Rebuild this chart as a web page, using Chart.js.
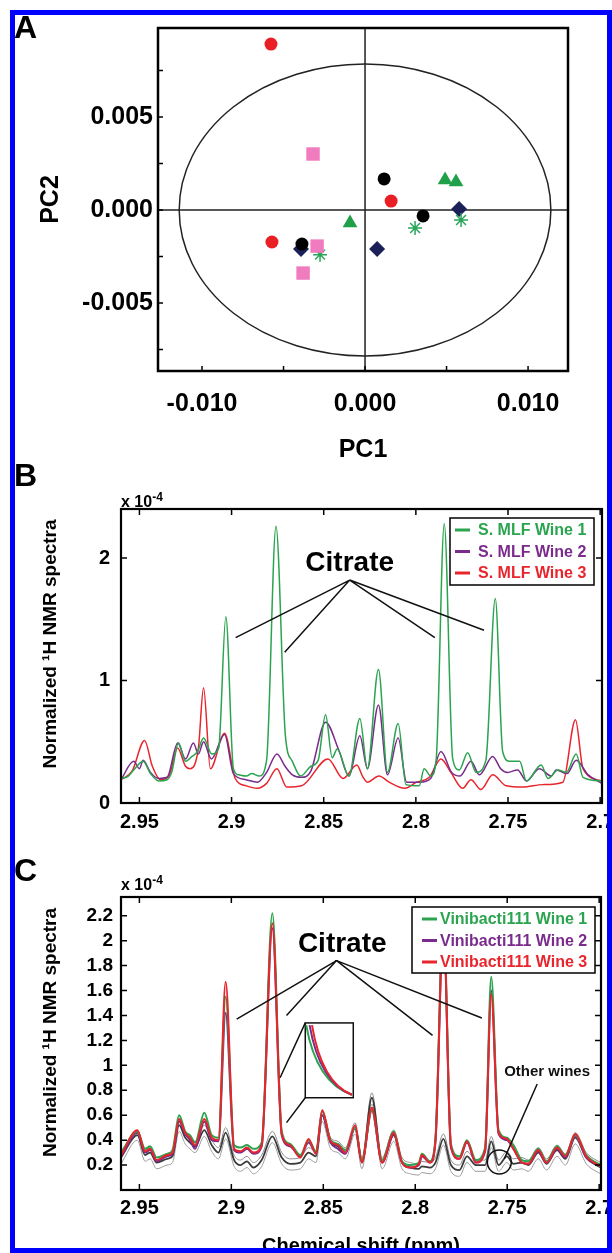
<!DOCTYPE html>
<html>
<head>
<meta charset="utf-8">
<script src="https://cdn.jsdelivr.net/npm/chart.js@4.4.1/dist/chart.umd.min.js"></script>
<style>
  html, body { margin: 0; padding: 0; background: #fff; overflow: hidden; }
  body { position: relative; width: 612px; height: 1253px; font-family: "Liberation Sans", Arial, sans-serif; }
  canvas { position: absolute; left: 0; }
  .frame { position: absolute; left: 10px; top: 10px; width: 602px; height: 1243px; box-sizing: border-box; border: 5px solid #0000ff; pointer-events: none; z-index: 5; }
  .letter { position: absolute; left: 14px; font-weight: bold; font-size: 32px; line-height: 32px; z-index: 2; }
  .mult { position: absolute; left: 121px; font-weight: bold; font-size: 16px; line-height: 16px; z-index: 2; }
  .mult sup { font-size: 12px; vertical-align: 6px; line-height: 0; }
</style>
</head>
<body>
<canvas id="pca" width="612" height="470" style="top:0"></canvas>
<canvas id="mlf" width="612" height="400" style="top:440px"></canvas>
<canvas id="vini" width="612" height="420" style="top:840px"></canvas>
<div class="letter" style="top:11px">A</div>
<div class="letter" style="top:459px">B</div>
<div class="letter" style="top:854px">C</div>
<div class="mult" style="top:494px">x 10<sup>-4</sup></div>
<div class="mult" style="top:877px">x 10<sup>-4</sup></div>
<div class="frame"></div>
<script>
const FONT = '"Liberation Sans", Arial, sans-serif';
Chart.defaults.font.family = FONT;
Chart.defaults.font.weight = 'bold';
Chart.defaults.color = '#000';

// ---------- panel A : PCA scores ----------
const redCircleX = [-0.00577, 0.00160, -0.00571];
const redCircleY = [0.00892, 0.00048, -0.00172];
const pinkSquareX = [-0.00319, -0.00294, -0.00380];
const pinkSquareY = [0.00301, -0.00194, -0.00339];
const blackCircleX = [0.00117, 0.00356, -0.00387];
const blackCircleY = [0.00167, -0.00032, -0.00183];
const greenTriangleX = [0.00491, 0.00558, -0.00092];
const greenTriangleY = [0.00161, 0.00151, -0.00070];
const navyDiamondX = [0.00577, -0.00393, 0.00074];
const navyDiamondY = [0.00005, -0.00210, -0.00210];
const greenStarX = [0.00307, 0.00589, -0.00276];
const greenStarY = [-0.00097, -0.00054, -0.00240];
const ellipseRadiusX = 0.0114;
const ellipseRadiusY = 0.00785;
const pc1Ticks = [-0.01, -0.005, 0, 0.005, 0.01];
const pc2Ticks = [-0.0075, -0.005, -0.0025, 0, 0.0025, 0.005, 0.0075];

// ---------- panel B : S. MLF wines ----------
const mlfWine1Shift = [2.960, 2.956, 2.9525, 2.948, 2.944, 2.9394, 2.935, 2.9325, 2.9288, 2.925,
  2.9215, 2.9185, 2.9152, 2.9107, 2.907, 2.9031, 2.899, 2.896, 2.892, 2.889,
  2.885, 2.881, 2.8759, 2.8708, 2.867, 2.8625, 2.857, 2.853, 2.849, 2.8454,
  2.8427, 2.8363, 2.8304, 2.8263, 2.8203, 2.8154, 2.8096, 2.8054, 2.7982, 2.7955,
  2.7919, 2.789, 2.7846, 2.780, 2.7764, 2.7719, 2.7673, 2.762, 2.7569, 2.7529,
  2.749, 2.7437, 2.740, 2.732, 2.7283, 2.7229, 2.7184, 2.713, 2.7093, 2.699];
const mlfWine1 = [0.20, 0.22, 0.28, 0.34, 0.24, 0.18, 0.19, 0.25, 0.49, 0.34,
  0.38, 0.42, 0.53, 0.40, 0.45, 1.52, 0.28, 0.23, 0.22, 0.24,
  0.22, 0.35, 2.26, 0.55, 0.34, 0.22, 0.30, 0.35, 0.72, 0.37,
  0.44, 0.22, 0.69, 0.28, 1.09, 0.25, 0.65, 0.15, 0.14, 0.28,
  0.22, 0.35, 2.28, 0.36, 0.27, 0.41, 0.25, 0.35, 1.67, 0.42,
  0.34, 0.34, 0.18, 0.31, 0.20, 0.27, 0.25, 0.40, 0.21, 0.18];
const mlfWine2Shift = [2.960, 2.9531, 2.950, 2.948, 2.944, 2.9394, 2.935, 2.9292, 2.925, 2.9207,
  2.918, 2.9152, 2.911, 2.9038, 2.899, 2.8921, 2.886, 2.881, 2.8754, 2.871,
  2.867, 2.862, 2.857, 2.849, 2.8418, 2.8363, 2.8304, 2.8263, 2.8203, 2.8154,
  2.8096, 2.805, 2.798, 2.792, 2.7864, 2.7806, 2.776, 2.7701, 2.7655, 2.7583,
  2.754, 2.7502, 2.7448, 2.740, 2.733, 2.7265, 2.7238, 2.718, 2.713, 2.7065, 2.699];
const mlfWine2 = [0.19, 0.34, 0.28, 0.35, 0.25, 0.20, 0.21, 0.49, 0.36, 0.49,
  0.40, 0.50, 0.36, 0.56, 0.24, 0.19, 0.17, 0.25, 0.40, 0.30,
  0.23, 0.21, 0.26, 0.66, 0.43, 0.22, 0.55, 0.28, 0.80, 0.23,
  0.53, 0.17, 0.17, 0.20, 0.42, 0.25, 0.22, 0.34, 0.23, 0.38,
  0.28, 0.25, 0.27, 0.18, 0.28, 0.22, 0.27, 0.24, 0.35, 0.23, 0.16];
const mlfWine3Shift = [2.960, 2.954, 2.9472, 2.943, 2.9385, 2.934, 2.9293, 2.925, 2.9225, 2.918,
  2.9152, 2.9115, 2.9038, 2.898, 2.892, 2.886, 2.881, 2.8754, 2.870, 2.862,
  2.8477, 2.8395, 2.832, 2.829, 2.8264, 2.820, 2.8145, 2.806, 2.7996, 2.7927,
  2.7864, 2.781, 2.7746, 2.7701, 2.7647, 2.7583, 2.751, 2.742, 2.7311, 2.7202,
  2.7134, 2.7093, 2.699];
const mlfWine3 = [0.19, 0.26, 0.51, 0.30, 0.19, 0.22, 0.45, 0.30, 0.28, 0.45,
  0.94, 0.28, 0.57, 0.20, 0.14, 0.12, 0.16, 0.28, 0.13, 0.14,
  0.36, 0.20, 0.31, 0.22, 0.17, 0.22, 0.17, 0.12, 0.17, 0.21,
  0.36, 0.25, 0.12, 0.19, 0.11, 0.23, 0.14, 0.13, 0.15, 0.17,
  0.68, 0.28, 0.18];

// ---------- panel C : Vinibacti111 wines and the other wines ----------
const viniShift = [2.960, 2.9511, 2.9469, 2.9442, 2.9406, 2.935, 2.932, 2.9284, 2.9251, 2.9225,
  2.9197, 2.9147, 2.9107, 2.907, 2.9031, 2.8985, 2.895, 2.8915, 2.888, 2.8835,
  2.8777, 2.8726, 2.868, 2.8625, 2.858, 2.854, 2.8506, 2.846, 2.842, 2.838,
  2.8327, 2.829, 2.8236, 2.818, 2.8117, 2.8072, 2.8026, 2.798, 2.7964, 2.792,
  2.789, 2.7847, 2.7806, 2.776, 2.7719, 2.767, 2.762, 2.7587, 2.7547, 2.7502,
  2.7466, 2.742, 2.7385, 2.7331, 2.7286, 2.7229, 2.7184, 2.713, 2.707, 2.7017, 2.699];
const viniWine1 = [0.30, 0.47, 0.33, 0.35, 0.26, 0.29, 0.32, 0.60, 0.47, 0.44,
  0.38, 0.62, 0.44, 0.42, 1.55, 0.36, 0.34, 0.36, 0.33, 0.38,
  2.22, 0.47, 0.37, 0.28, 0.40, 0.31, 0.63, 0.40, 0.37, 0.32,
  0.50, 0.24, 0.64, 0.24, 0.47, 0.23, 0.20, 0.22, 0.29, 0.23,
  0.42, 2.20, 0.37, 0.27, 0.40, 0.24, 0.34, 1.71, 0.48, 0.42,
  0.36, 0.24, 0.23, 0.33, 0.23, 0.35, 0.28, 0.44, 0.28, 0.22, 0.20];
const viniWine2 = [0.27, 0.46, 0.30, 0.32, 0.23, 0.27, 0.29, 0.55, 0.45, 0.40,
  0.33, 0.55, 0.40, 0.39, 1.42, 0.32, 0.30, 0.33, 0.29, 0.35,
  2.10, 0.44, 0.35, 0.27, 0.38, 0.30, 0.60, 0.38, 0.33, 0.29,
  0.50, 0.23, 0.64, 0.22, 0.45, 0.22, 0.18, 0.20, 0.27, 0.22,
  0.39, 2.12, 0.34, 0.25, 0.38, 0.22, 0.31, 1.60, 0.45, 0.40,
  0.33, 0.22, 0.21, 0.31, 0.22, 0.33, 0.26, 0.43, 0.26, 0.21, 0.19];
const viniWine3 = [0.28, 0.48, 0.31, 0.33, 0.24, 0.28, 0.30, 0.57, 0.46, 0.42,
  0.36, 0.57, 0.42, 0.40, 1.67, 0.33, 0.31, 0.34, 0.30, 0.36,
  2.14, 0.45, 0.36, 0.26, 0.41, 0.29, 0.64, 0.39, 0.36, 0.30,
  0.52, 0.22, 0.66, 0.22, 0.46, 0.22, 0.18, 0.21, 0.28, 0.22,
  0.40, 2.15, 0.35, 0.25, 0.39, 0.22, 0.32, 1.57, 0.46, 0.41,
  0.33, 0.22, 0.21, 0.32, 0.22, 0.34, 0.27, 0.45, 0.27, 0.21, 0.19];
const otherWinesMid = [0.26, 0.44, 0.28, 0.30, 0.22, 0.25, 0.27, 0.52, 0.42, 0.38,
  0.35, 0.48, 0.36, 0.30, 0.46, 0.24, 0.20, 0.23, 0.18, 0.24,
  0.43, 0.26, 0.21, 0.22, 0.30, 0.27, 0.60, 0.38, 0.35, 0.30,
  0.50, 0.22, 0.74, 0.22, 0.44, 0.22, 0.18, 0.17, 0.19, 0.18,
  0.22, 0.41, 0.20, 0.16, 0.27, 0.20, 0.20, 0.39, 0.20, 0.27,
  0.21, 0.22, 0.20, 0.30, 0.21, 0.32, 0.25, 0.42, 0.26, 0.20, 0.18];
const otherWinesHigh = [0.30, 0.48, 0.32, 0.34, 0.26, 0.29, 0.31, 0.56, 0.46, 0.42,
  0.39, 0.52, 0.40, 0.34, 0.50, 0.28, 0.24, 0.27, 0.22, 0.28,
  0.47, 0.30, 0.25, 0.26, 0.34, 0.31, 0.64, 0.42, 0.39, 0.34,
  0.54, 0.26, 0.78, 0.26, 0.48, 0.26, 0.22, 0.21, 0.23, 0.22,
  0.26, 0.45, 0.24, 0.20, 0.31, 0.24, 0.24, 0.43, 0.24, 0.31,
  0.25, 0.26, 0.24, 0.34, 0.25, 0.36, 0.29, 0.46, 0.30, 0.24, 0.22];
const otherWinesLow = [0.21, 0.40, 0.23, 0.25, 0.17, 0.20, 0.22, 0.47, 0.37, 0.33,
  0.30, 0.43, 0.31, 0.25, 0.41, 0.19, 0.15, 0.18, 0.13, 0.19,
  0.38, 0.21, 0.16, 0.17, 0.25, 0.22, 0.55, 0.33, 0.30, 0.25,
  0.45, 0.17, 0.69, 0.17, 0.39, 0.17, 0.13, 0.12, 0.14, 0.13,
  0.17, 0.36, 0.15, 0.11, 0.22, 0.15, 0.15, 0.34, 0.15, 0.22,
  0.16, 0.17, 0.15, 0.25, 0.16, 0.27, 0.20, 0.37, 0.21, 0.15, 0.13];

const shiftTicks = [2.95, 2.9, 2.85, 2.8, 2.75, 2.7];
const mlfTicks = [0, 1, 2];
const viniTicks = [0.2, 0.4, 0.6, 0.8, 1, 1.2, 1.4, 1.6, 1.8, 2, 2.2];

const GREEN = '#2aa44e', PURPLE = '#7a2b8c', RED = '#e8252c';

const pts = (xs, ys) => xs.map((x, i) => ({ x: x, y: ys[i] }));
const fixTicks = list => scale => { scale.ticks = list.map(v => ({ value: v })); };
// keep the edge labels from shrinking the plot area
const noEdgePad = (s) => { s.paddingLeft = 0; s.paddingRight = 0; s.paddingTop = 0; s.paddingBottom = 0; };

// inward tick marks and the box round the plot area
const frameTicks = {
  id: 'frameTicks',
  afterDatasetsDraw(chart, args, o) {
    const { ctx, chartArea: a, scales: { x, y } } = chart;
    ctx.save();
    ctx.strokeStyle = '#000';
    ctx.lineWidth = o.tickWidth;
    ctx.beginPath();
    x.ticks.forEach(t => {
      const p = x.getPixelForValue(t.value);
      ctx.moveTo(p, a.bottom); ctx.lineTo(p, a.bottom - o.len);
      if (o.mirror) { ctx.moveTo(p, a.top); ctx.lineTo(p, a.top + o.len); }
    });
    y.ticks.forEach(t => {
      const p = y.getPixelForValue(t.value);
      ctx.moveTo(a.left, p); ctx.lineTo(a.left + o.len, p);
      if (o.mirror) { ctx.moveTo(a.right, p); ctx.lineTo(a.right - o.len, p); }
    });
    ctx.stroke();
    ctx.lineWidth = o.frameWidth;
    ctx.strokeRect(a.left, a.top, a.right - a.left, a.bottom - a.top);
    ctx.restore();
  }
};

// rotated y title, placed a little above the middle of the plot like the original
const sideTitle = {
  id: 'sideTitle',
  afterDraw(chart, args, o) {
    const { ctx, chartArea: a } = chart;
    ctx.save();
    ctx.translate(o.x, (a.top + a.bottom) / 2 + o.shift);
    ctx.rotate(-Math.PI / 2);
    ctx.fillStyle = '#000';
    ctx.font = 'bold 19px ' + FONT;
    ctx.textAlign = 'center';
    ctx.textBaseline = 'middle';
    ctx.fillText(o.text, 0, 0);
    ctx.restore();
  }
};

// zero lines and confidence ellipse of the score plot
const pcaGuides = {
  id: 'pcaGuides',
  beforeDatasetsDraw(chart) {
    const { ctx, chartArea: a, scales: { x, y } } = chart;
    const cx = x.getPixelForValue(0), cy = y.getPixelForValue(0);
    ctx.save();
    ctx.strokeStyle = '#222';
    ctx.lineWidth = 1.5;
    ctx.beginPath();
    ctx.moveTo(cx, a.top); ctx.lineTo(cx, a.bottom);
    ctx.moveTo(a.left, cy); ctx.lineTo(a.right, cy);
    ctx.stroke();
    const rx = Math.abs(x.getPixelForValue(ellipseRadiusX) - cx);
    const ry = Math.abs(y.getPixelForValue(ellipseRadiusY) - cy);
    ctx.beginPath();
    ctx.ellipse(cx, cy, rx, ry, 0, 0, Math.PI * 2);
    ctx.stroke();
    ctx.restore();
  }
};

function drawLegend(chart, box) {
  const { ctx, chartArea: a } = chart;
  const x0 = a.right - box.right - box.width, y0 = a.top + box.top;
  ctx.save();
  ctx.fillStyle = '#fff';
  ctx.fillRect(x0, y0, box.width, box.height);
  ctx.strokeStyle = '#000';
  ctx.lineWidth = 1.5;
  ctx.strokeRect(x0, y0, box.width, box.height);
  ctx.font = 'bold 16px ' + FONT;
  ctx.textAlign = 'left';
  ctx.textBaseline = 'middle';
  chart.data.datasets.slice(0, 3).forEach((ds, i) => {
    const yy = y0 + box.rowTop + i * box.rowGap;
    ctx.strokeStyle = ds.borderColor;
    ctx.lineWidth = 3;
    ctx.beginPath();
    ctx.moveTo(x0 + box.lineFrom, yy); ctx.lineTo(x0 + box.lineTo, yy);
    ctx.stroke();
    ctx.fillStyle = ds.borderColor;
    ctx.fillText(ds.label, x0 + box.textAt, yy + 1);
  });
  ctx.restore();
}

function drawCitrate(chart, note) {
  const { ctx, scales: { x, y } } = chart;
  ctx.save();
  ctx.fillStyle = '#000';
  ctx.font = 'bold 28px ' + FONT;
  ctx.textAlign = 'center';
  ctx.textBaseline = 'middle';
  ctx.fillText('Citrate', x.getPixelForValue(note.label[0]), y.getPixelForValue(note.label[1]));
  ctx.strokeStyle = '#111';
  ctx.lineWidth = 1.5;
  ctx.beginPath();
  const vx = x.getPixelForValue(note.vertex[0]), vy = y.getPixelForValue(note.vertex[1]);
  note.targets.forEach(([s, v]) => {
    ctx.moveTo(vx, vy);
    ctx.lineTo(x.getPixelForValue(s), y.getPixelForValue(v));
  });
  ctx.stroke();
  ctx.restore();
}

// ---------- chart A ----------
const scoreGroups = [
  { xs: pinkSquareX, ys: pinkSquareY, style: 'rect', color: '#f07cbf', r: 9.5 },
  { xs: blackCircleX, ys: blackCircleY, style: 'circle', color: '#000000', r: 6.5 },
  { xs: redCircleX, ys: redCircleY, style: 'circle', color: '#ea1f26', r: 6.5 },
  { xs: greenStarX, ys: greenStarY, style: 'star', color: '#2aa55a', r: 7 },
  { xs: greenTriangleX, ys: greenTriangleY, style: 'triangle', color: '#21a04a', r: 8.5 },
  { xs: navyDiamondX, ys: navyDiamondY, style: 'rectRot', color: '#1b2158', r: 8 }
];

new Chart(document.getElementById('pca'), {
  type: 'scatter',
  data: {
    datasets: scoreGroups.map(g => ({
      data: pts(g.xs, g.ys),
      pointStyle: g.style,
      pointRadius: g.r,
      backgroundColor: g.color,
      borderColor: g.color,
      pointBorderWidth: g.style === 'star' ? 1.5 : 0
    }))
  },
  options: {
    responsive: false,
    animation: false,
    devicePixelRatio: 1,
    events: [],
    layout: { padding: { left: 0, top: 28, right: 44, bottom: 0 } },
    plugins: {
      legend: { display: false },
      tooltip: { enabled: false },
      frameTicks: { len: 5, mirror: false, tickWidth: 1.5, frameWidth: 2.5 }
    },
    scales: {
      x: {
        type: 'linear', min: -0.0127, max: 0.01245,
        afterBuildTicks: fixTicks(pc1Ticks),
        afterFit: s => { s.height = 99; noEdgePad(s); },
        grid: { display: false, drawTicks: false },
        border: { display: false },
        ticks: {
          font: { size: 25, weight: 'bold' }, padding: 18, maxRotation: 0, autoSkip: false,
          callback: v => Math.abs(v / 0.01 - Math.round(v / 0.01)) < 1e-6 ? (Math.abs(v) < 1e-9 ? '0.000' : v.toFixed(3)) : ''
        },
        title: { display: true, text: 'PC1', font: { size: 25, weight: 'bold' }, padding: { top: 0, bottom: 5 } }
      },
      y: {
        type: 'linear', min: -0.008656, max: 0.009785,
        afterBuildTicks: fixTicks(pc2Ticks),
        afterFit: s => { s.width = 158; noEdgePad(s); },
        grid: { display: false, drawTicks: false },
        border: { display: false },
        ticks: {
          font: { size: 25, weight: 'bold' }, padding: 5, autoSkip: false,
          callback: v => Math.abs(v / 0.005 - Math.round(v / 0.005)) < 1e-6 ? (Math.abs(v) < 1e-9 ? '0.000' : v.toFixed(3)) : ''
        },
        title: { display: true, text: 'PC2', font: { size: 25, weight: 'bold' }, padding: { top: 36, bottom: 0 } }
      }
    }
  },
  plugins: [pcaGuides, frameTicks]
});

// ---------- chart B ----------
const mlfNotes = {
  id: 'mlfNotes',
  afterDatasetsDraw(chart) {
    drawCitrate(chart, {
      label: [2.8359, 1.96], vertex: [2.8359, 1.82],
      targets: [[2.8978, 1.35], [2.8712, 1.23], [2.7897, 1.35], [2.763, 1.41]]
    });
    drawLegend(chart, { right: 8, top: 9, width: 144, height: 67, rowTop: 12, rowGap: 21.5, lineFrom: 5, lineTo: 20, textAt: 28 });
  }
};

const spectrumLine = (label, data, color, width, order) => ({
  label: label, data: data, borderColor: color, backgroundColor: color, order: order,
  borderWidth: width, pointRadius: 0, fill: false, cubicInterpolationMode: 'monotone'
});

const shiftAxis = (extra) => Object.assign({
  type: 'linear', min: 2.699, max: 2.96, reverse: true,
  afterBuildTicks: fixTicks(shiftTicks),
  grid: { display: false, drawTicks: false },
  border: { display: false }
}, extra);

const shiftTickStyle = pad => ({ font: { size: 20, weight: 'bold' }, padding: pad, maxRotation: 0, autoSkip: false, callback: v => String(Number(v.toFixed(2))) });

new Chart(document.getElementById('mlf'), {
  type: 'line',
  data: {
    datasets: [
      spectrumLine('S. MLF Wine 1', pts(mlfWine1Shift, mlfWine1), GREEN, 1.5, 0),
      spectrumLine('S. MLF Wine 2', pts(mlfWine2Shift, mlfWine2), PURPLE, 1.5, 1),
      spectrumLine('S. MLF Wine 3', pts(mlfWine3Shift, mlfWine3), RED, 1.5, 2)
    ]
  },
  options: {
    responsive: false,
    animation: false,
    devicePixelRatio: 1,
    events: [],
    layout: { padding: { left: 0, top: 69, right: 10, bottom: 0 } },
    plugins: {
      legend: { display: false },
      tooltip: { enabled: false },
      frameTicks: { len: 6, mirror: true, tickWidth: 1.5, frameWidth: 2.2 },
      sideTitle: { text: 'Normalized ¹H NMR spectra', x: 51, shift: -12 }
    },
    scales: {
      x: shiftAxis({ afterFit: s => { s.height = 37; noEdgePad(s); }, ticks: shiftTickStyle(7) }),
      y: {
        type: 'linear', min: 0, max: 2.4,
        afterBuildTicks: fixTicks(mlfTicks),
        afterFit: s => { s.width = 121; noEdgePad(s); },
        grid: { display: false, drawTicks: false },
        border: { display: false },
        ticks: { font: { size: 20, weight: 'bold' }, padding: 11, callback: v => String(v) }
      }
    }
  },
  plugins: [frameTicks, mlfNotes, sideTitle]
});

// ---------- chart C ----------
const viniNotes = {
  id: 'viniNotes',
  afterDatasetsDraw(chart) {
    const { ctx, scales: { x, y } } = chart;
    drawCitrate(chart, {
      label: [2.8397, 1.97], vertex: [2.8428, 1.84],
      targets: [[2.8971, 1.37], [2.87, 1.40], [2.7906, 1.24], [2.7638, 1.38]]
    });
    // zoom inset on the flank of the 2.88 ppm peak
    const bx0 = x.getPixelForValue(2.8598), bx1 = x.getPixelForValue(2.8337);
    const by0 = y.getPixelForValue(1.34), by1 = y.getPixelForValue(0.74);
    const w = bx1 - bx0, h = by1 - by0;
    ctx.save();
    ctx.fillStyle = '#fff';
    ctx.fillRect(bx0, by0, w, h);
    ctx.strokeStyle = '#111';
    ctx.lineWidth = 1.5;
    ctx.strokeRect(bx0, by0, w, h);
    ctx.beginPath();
    ctx.moveTo(bx0, by0); ctx.lineTo(x.getPixelForValue(2.8735), y.getPixelForValue(0.90));
    ctx.moveTo(bx0, by1); ctx.lineTo(x.getPixelForValue(2.870), y.getPixelForValue(0.54));
    ctx.stroke();
    [[GREEN, 0.02, 0.23], [PURPLE, 0.09, 0.30], [RED, 0.14, 0.34]].forEach(([c, s, k]) => {
      ctx.strokeStyle = c;
      ctx.lineWidth = 2;
      ctx.beginPath();
      ctx.moveTo(bx0 + s * w, by0 + 0.03 * h);
      ctx.quadraticCurveTo(bx0 + k * w, by0 + 0.8 * h, bx0 + 0.97 * w, by0 + 0.96 * h);
      ctx.stroke();
    });
    // other wines call-out
    ctx.strokeStyle = '#111';
    ctx.lineWidth = 1.5;
    ctx.beginPath();
    ctx.arc(x.getPixelForValue(2.7543), y.getPixelForValue(0.224), 12, 0, Math.PI * 2);
    ctx.moveTo(x.getPixelForValue(2.7337), y.getPixelForValue(0.85));
    ctx.lineTo(x.getPixelForValue(2.7516), y.getPixelForValue(0.25));
    ctx.stroke();
    ctx.fillStyle = '#111';
    ctx.font = 'bold 15px ' + FONT;
    ctx.textAlign = 'center';
    ctx.textBaseline = 'middle';
    ctx.fillText('Other wines', x.getPixelForValue(2.7283), y.getPixelForValue(0.944));
    ctx.restore();
    drawLegend(chart, { right: 6, top: 10, width: 183, height: 66, rowTop: 12, rowGap: 21.5, lineFrom: 10, lineTo: 25, textAt: 28 });
  }
};

new Chart(document.getElementById('vini'), {
  type: 'line',
  data: {
    datasets: [
      spectrumLine('Vinibacti111 Wine 1', pts(viniShift, viniWine1), GREEN, 2, 1),
      spectrumLine('Vinibacti111 Wine 2', pts(viniShift, viniWine2), PURPLE, 2, 2),
      spectrumLine('Vinibacti111 Wine 3', pts(viniShift, viniWine3), RED, 2, 0),
      spectrumLine('Other wines', pts(viniShift, otherWinesMid), '#3a3a3a', 1.8, 3),
      spectrumLine('Other wines high', pts(viniShift, otherWinesHigh), '#8c8c8c', 1, 4),
      spectrumLine('Other wines low', pts(viniShift, otherWinesLow), '#9c9c9c', 1, 5)
    ]
  },
  options: {
    responsive: false,
    animation: false,
    devicePixelRatio: 1,
    events: [],
    layout: { padding: { left: 0, top: 57, right: 11, bottom: 0 } },
    plugins: {
      legend: { display: false },
      tooltip: { enabled: false },
      frameTicks: { len: 6, mirror: true, tickWidth: 1.5, frameWidth: 2.2 },
      sideTitle: { text: 'Normalized ¹H NMR spectra', x: 51, shift: -11 }
    },
    scales: {
      x: shiftAxis({
        afterFit: s => { s.height = 70; noEdgePad(s); },
        ticks: shiftTickStyle(6),
        title: { display: true, text: 'Chemical shift (ppm)', font: { size: 20, weight: 'bold' }, padding: { top: 0, bottom: 2 } }
      }),
      y: {
        type: 'linear', min: 0, max: 2.35,
        afterBuildTicks: fixTicks(viniTicks),
        afterFit: s => { s.width = 121; noEdgePad(s); },
        grid: { display: false, drawTicks: false },
        border: { display: false },
        ticks: { font: { size: 19, weight: 'bold' }, padding: 8, autoSkip: false, callback: v => String(Number(v.toFixed(1))) }
      }
    }
  },
  plugins: [frameTicks, viniNotes, sideTitle]
});
</script>
</body>
</html>
